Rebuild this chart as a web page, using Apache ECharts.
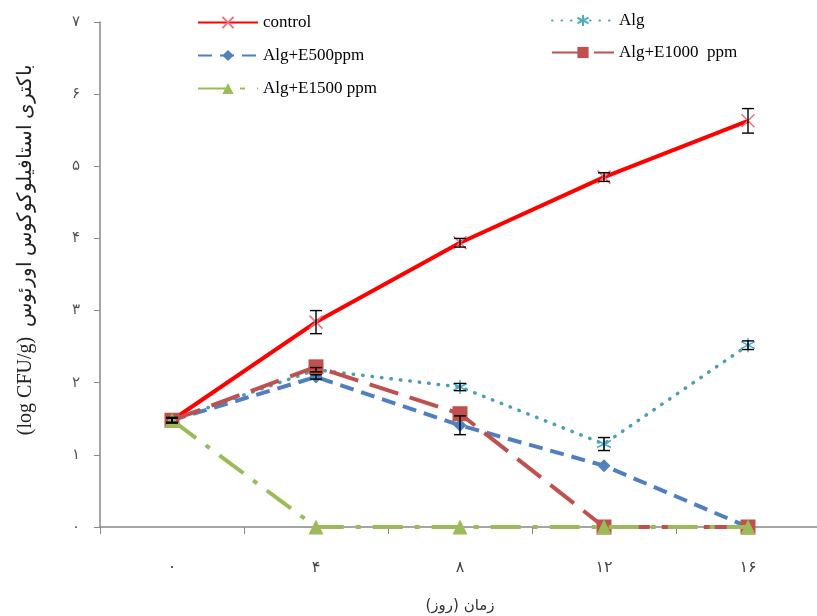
<!DOCTYPE html>
<html><head><meta charset="utf-8">
<script src="https://cdn.jsdelivr.net/npm/echarts@6/dist/echarts.min.js"></script>
<style>html,body{margin:0;padding:0;background:#fff}#c{width:817px;height:616px}</style>
</head><body><div id="c"></div>
<script>
const categories = ['۰','۴','۸','۱۲','۱۶'];
const yTickLabels = ['۰','۱','۲','۳','۴','۵','۶','۷'];
const seriesNames = ['control','Alg','Alg+E500ppm','Alg+E1000  ppm','Alg+E1500 ppm'];
const controlVals = [1.48, 2.84, 3.94, 4.85, 5.63];
const controlErr  = [0.04, 0.16, 0.06, 0.06, 0.17];
const algVals     = [1.48, 2.18, 1.94, 1.15, 2.52];
const algErr      = [0.03, 0.03, 0.05, 0.09, 0.06];
const e500Vals    = [1.48, 2.08, 1.41, 0.85, 0.0];
const e500Err     = [0.03, 0.03, 0.13, 0.0, 0.0];
const e1000Vals   = [1.48, 2.22, 1.57, 0.0, 0.0];
const e1500Vals   = [1.48, 0.0, 0.0, 0.0, 0.0];

const serif = '"Liberation Serif","Times New Roman",serif';
const chart = echarts.init(document.getElementById('c'), null, {renderer:'canvas'});

function errData(vals, errs){ return vals.map((v,i)=>[i, v-errs[i], v+errs[i]]); }
function errSeries(vals, errs){
  return {
    type:'custom', z:20, silent:true,
    data: errData(vals, errs),
    encode:{x:0, y:[1,2]},
    renderItem:function(params, api){
      const x = api.value(0), lo = api.value(1), hi = api.value(2);
      if (hi - lo < 0.001) return null;
      const p1 = api.coord([x, lo]), p2 = api.coord([x, hi]);
      const w = 6;
      const st = {stroke:'#000', lineWidth:1.4};
      return {type:'group', children:[
        {type:'line', shape:{x1:p1[0],y1:p1[1],x2:p2[0],y2:p2[1]}, style:st},
        {type:'line', shape:{x1:p1[0]-w,y1:p1[1],x2:p1[0]+w,y2:p1[1]}, style:st},
        {type:'line', shape:{x1:p2[0]-w,y1:p2[1],x2:p2[0]+w,y2:p2[1]}, style:st}
      ]};
    }
  };
}

const crossPath = 'path://M0,0L10,10M10,0L0,10';
const starPath = 'path://M5,0L5,10M0.7,2.5L9.3,7.5M0.7,7.5L9.3,2.5';

const option = {
  animation:false,
  backgroundColor:'#fff',
  grid:{left:100, top:22, width:720, height:505, outerBoundsMode:'none', containLabel:false},
  legend:[
    {orient:'vertical', left:192, top:9, itemWidth:60, itemHeight:14, itemGap:16,
     textStyle:{fontFamily:serif, fontSize:17, color:'#000'},
     data:[seriesNames[0], seriesNames[2], seriesNames[4]]},
    {orient:'vertical', left:546, top:7, itemWidth:62, itemHeight:14, itemGap:15,
     textStyle:{fontFamily:serif, fontSize:17, color:'#000'},
     data:[seriesNames[1], seriesNames[3]]}
  ],
  xAxis:{
    type:'category', data:categories, boundaryGap:true,
    name:'زمان (روز)', nameLocation:'middle', nameGap:72,
    nameTextStyle:{fontFamily:'"DejaVu Sans",sans-serif', fontSize:15, color:'#333'},
    axisLine:{lineStyle:{color:'#888', width:1.5}},
    axisTick:{show:true, alignWithLabel:false, length:7, lineStyle:{color:'#888'}},
    axisLabel:{margin:33, fontSize:16, color:'#444', fontFamily:'"DejaVu Sans",sans-serif'}
  },
  yAxis:{
    type:'value', min:0, max:7, interval:1,
    name:'(log CFU/g)  باکتری استافیلوکوکوس اورئوس', nameLocation:'middle', nameGap:64, nameRotate:90,
    nameTextStyle:{fontFamily:serif, fontSize:20, color:'#222', padding:[0,0,0,50]},
    axisLine:{show:true, lineStyle:{color:'#888', width:1.5}},
    axisTick:{show:true, length:6, lineStyle:{color:'#888'}},
    splitLine:{show:false},
    axisLabel:{margin:20, fontSize:15, color:'#555', fontFamily:'"DejaVu Sans",sans-serif',
      formatter:function(v){ return yTickLabels[Math.round(v)]; }}
  },
  series:[
    {name:seriesNames[0], type:'line', data:controlVals, z:5,
     lineStyle:{color:'#FF0000', width:4},
     symbol:crossPath, symbolSize:13,
     itemStyle:{color:'rgba(0,0,0,0)', borderColor:'#F07080', borderWidth:1.5}},
    {name:seriesNames[1], type:'line', data:algVals, z:4,
     lineStyle:{color:'#4A9FB5', width:3.5, type:[0.5,9], cap:'round'},
     symbol:starPath, symbolSize:14,
     itemStyle:{color:'rgba(0,0,0,0)', borderColor:'#4BACC6', borderWidth:1.5}},
    {name:seriesNames[2], type:'line', data:e500Vals, z:6,
     lineStyle:{color:'#4F7FC0', width:4, type:[14,8]},
     symbol:'diamond', symbolSize:13,
     itemStyle:{color:'#4F81BD'}},
    {name:seriesNames[3], type:'line', data:e1000Vals, z:7,
     lineStyle:{color:'#C0504D', width:4, type:[30,12]},
     symbol:'rect', symbolSize:15,
     itemStyle:{color:'#C0504D'}},
    {name:seriesNames[4], type:'line', data:e1500Vals, z:8,
     lineStyle:{color:'#9BBB59', width:4, type:[30,12,5,12]},
     symbol:'triangle', symbolSize:15,
     itemStyle:{color:'#9BBB59'}},
    errSeries(controlVals, controlErr),
    errSeries(algVals, algErr),
    errSeries(e500Vals, e500Err)
  ]
};
chart.setOption(option);
</script></body></html>
